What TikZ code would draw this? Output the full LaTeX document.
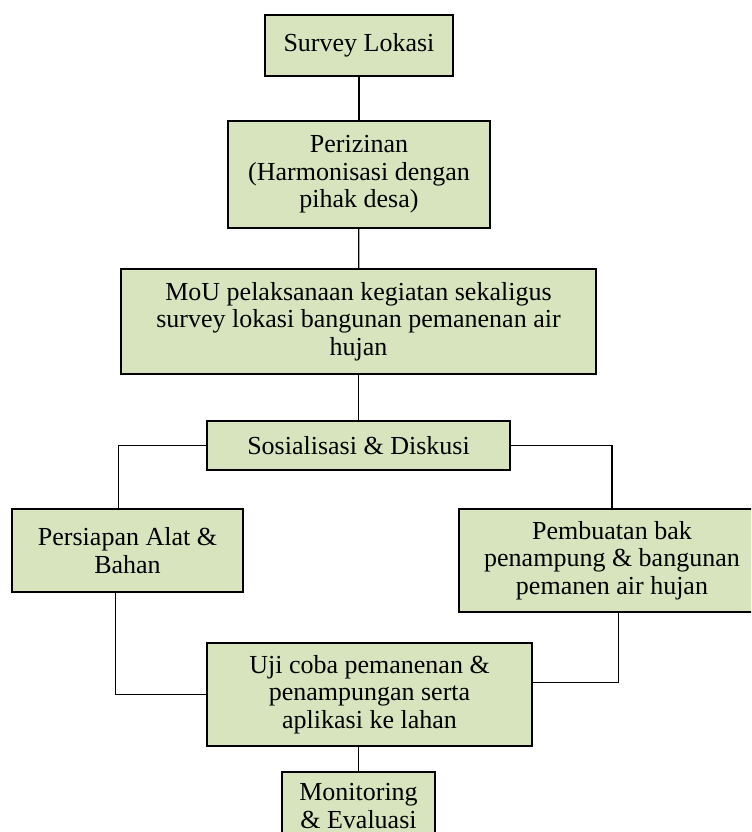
\documentclass[tikz,border=0pt]{standalone}
\usepackage{fontspec}
\setmainfont{Liberation Serif}
\usepackage{tikz}
\definecolor{olivelight}{HTML}{D7E4BD}
\tikzstyle{Stage}=[rectangle, draw=black, line width=1pt, fill=olivelight, align=center, inner sep=0pt, font=\fontsize{19.5}{20.6}\selectfont]

\begin{document}
\begin{tikzpicture}[x=0.75pt, y=-0.75pt, line width=1pt]
    \clip (0,0) rectangle (751,832);
    \path
    (359,45.5) node[Stage, minimum width=141pt, minimum height=45.75pt] (survey) {Survey Lokasi}
    (359,174.5) node[Stage, minimum width=196.5pt, minimum height=80.25pt] (izin) {Perizinan\\(Harmonisasi dengan\\pihak desa)}
    (358.5,321.5) node[Stage, minimum width=356.25pt, minimum height=78.75pt] (mou) {MoU pelaksanaan kegiatan sekaligus\\survey lokasi bangunan pemanenan air\\hujan}
    (358.5,445.5) node[Stage, minimum width=227.25pt, minimum height=36.75pt] (sos) {Sosialisasi \& Diskusi};

    \path
    (127.5,550.5) node[Stage, minimum width=173.25pt, minimum height=62.25pt] (alat) {Persiapan Alat \&\\Bahan}
    (612,560.5) node[Stage, minimum width=229.5pt, minimum height=77.25pt] (bak) {Pembuatan bak\\penampung \& bangunan\\pemanen air hujan}
    (369.5,694.5) node[Stage, minimum width=243.75pt, minimum height=77.25pt] (uji) {Uji coba pemanenan \&\\penampungan serta\\aplikasi ke lahan}
    (358.5,806) node[Stage, minimum width=114.75pt, minimum height=51pt] (monev) {Monitoring\\\& Evaluasi};

    \draw (survey) -- (izin);
    \draw (izin) -- (mou);
    \draw (mou) -- (sos);

    \draw (sos.west) -| ([xshift=-7pt]alat.north);
    \draw (sos.east) -| (bak.north);

    \draw ([xshift=-9pt]alat.south) |- (uji.west);
    \draw ([xshift=5pt]bak.south) |- ([yshift=9pt]uji.east);
    \draw (monev) -- (monev |- uji.south);
\end{tikzpicture}
\end{document}
